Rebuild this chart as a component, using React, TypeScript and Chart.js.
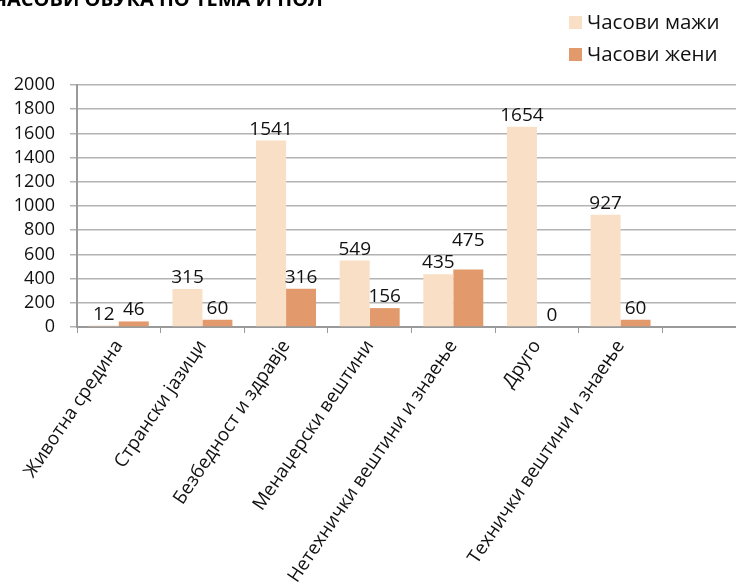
import React, { useEffect, useRef } from 'react';
import { Chart, registerables } from 'chart.js';

Chart.register(...registerables);

const chartTitle = 'ЧАСОВИ ОБУКА ПО ТЕМА И ПОЛ';
const categories = [
  'Животна средина',
  'Странски јазици',
  'Безбедност и здравје',
  'Менаџерски вештини',
  'Нетехнички вештини и знаење',
  'Друго',
  'Технички вештини и знаење',
  '',
];
const seriesNames = ['Часови мажи', 'Часови жени'];
const menHours: (number | null)[] = [12, 315, 1541, 549, 435, 1654, 927, null];
const womenHours: (number | null)[] = [46, 60, 316, 156, 475, 0, 60, null];
const yMin = 0;
const yMax = 2000;
const yStep = 200;

const FONT = "'Open Sans', 'Noto Sans', sans-serif";
const MEN_COLOR = '#F8DFC5';
const WOMEN_COLOR = '#E29A6C';
const GRID_COLOR = '#B3B3B3';
const AXIS_COLOR = '#9A9A9A';
const TEXT_COLOR = '#111111';

const valueLabels = {
  id: 'valueLabels',
  afterDatasetsDraw(chart: any) {
    const ctx = chart.ctx;
    ctx.save();
    ctx.font = `19px ${FONT}`;
    ctx.fillStyle = TEXT_COLOR;
    ctx.textAlign = 'center';
    ctx.textBaseline = 'alphabetic';
    const textH = 14;
    const n = chart.data.labels.length;
    for (let j = 0; j < n; j++) {
      const items: { text: string; x: number; y: number; w: number }[] = [];
      chart.data.datasets.forEach((ds: any, i: number) => {
        const v = ds.data[j];
        if (v === null || v === undefined) return;
        const bar = chart.getDatasetMeta(i).data[j];
        const text = String(v);
        items.push({ text, x: bar.x, y: bar.y - 6, w: ctx.measureText(text).width });
      });
      // avoid overlapping labels inside one category
      if (items.length === 2) {
        const [a, b] = items;
        const overlapX = Math.abs(a.x - b.x) < (a.w + b.w) / 2 + 2;
        const overlapY = Math.abs(a.y - b.y) < textH + 4;
        if (overlapX && overlapY) {
          if (b.y <= a.y) b.y = a.y - (textH + 8);
          else a.y = b.y - (textH + 8);
        }
      }
      items.forEach((it) => ctx.fillText(it.text, it.x, it.y));
    }
    ctx.restore();
  },
};

const legendAndTitle = {
  id: 'legendAndTitle',
  afterDraw(chart: any) {
    const ctx = chart.ctx;
    ctx.save();
    // title (clipped at the top-left like the reference)
    ctx.font = `bold 20px ${FONT}`;
    ctx.fillStyle = '#000';
    ctx.textAlign = 'right';
    ctx.textBaseline = 'alphabetic';
    ctx.fillText(chartTitle, 323, 6);
    // legend
    ctx.font = `20.5px ${FONT}`;
    ctx.textAlign = 'left';
    ctx.textBaseline = 'middle';
    chart.data.datasets.forEach((ds: any, i: number) => {
      const top = 16 + i * 32;
      ctx.fillStyle = ds.backgroundColor;
      ctx.fillRect(569, top, 13, 13);
      ctx.fillStyle = TEXT_COLOR;
      ctx.fillText(ds.label, 587, top + 7);
    });
    ctx.restore();
  },
};

export default function App() {
  const ref = useRef<HTMLCanvasElement | null>(null);

  useEffect(() => {
    document.body.style.margin = '0';
    document.body.style.overflow = 'hidden';
    const canvas = ref.current;
    if (!canvas) return;
    const chart = new Chart(canvas, {
      type: 'bar',
      data: {
        labels: categories,
        datasets: [
          {
            label: seriesNames[0],
            data: menHours,
            backgroundColor: MEN_COLOR,
            borderWidth: 0,
            categoryPercentage: 0.717,
            barPercentage: 1,
          },
          {
            label: seriesNames[1],
            data: womenHours,
            backgroundColor: WOMEN_COLOR,
            borderWidth: 0,
            categoryPercentage: 0.717,
            barPercentage: 1,
          },
        ],
      },
      options: {
        responsive: false,
        animation: false,
        devicePixelRatio: 1,
        layout: { padding: { top: 85, right: 14, left: 0, bottom: 0 } },
        plugins: {
          legend: { display: false },
          title: { display: false },
          tooltip: { enabled: false },
        },
        scales: {
          x: {
            afterFit(scale: any) {
              scale.height = 257;
            },
            grid: {
              drawOnChartArea: false,
              drawTicks: true,
              tickLength: 6,
              color: AXIS_COLOR,
              lineWidth: 1,
            },
            border: { color: AXIS_COLOR, width: 2 },
            ticks: {
              autoSkip: false,
              maxRotation: 56,
              minRotation: 56,
              padding: 3,
              color: TEXT_COLOR,
              font: { family: FONT, size: 18.7 },
            },
          },
          y: {
            min: yMin,
            max: yMax,
            afterFit(scale: any) {
              scale.width = 77;
            },
            grid: {
              color: GRID_COLOR,
              lineWidth: 1.5,
              tickLength: 7,
            },
            border: { color: AXIS_COLOR, width: 2 },
            ticks: {
              stepSize: yStep,
              autoSkip: false,
              padding: 15,
              color: TEXT_COLOR,
              font: { family: FONT, size: 18 },
              callback: (value: any) => String(value),
            },
          },
        },
      },
      plugins: [valueLabels, legendAndTitle],
    });
    return () => chart.destroy();
  }, []);

  return (
    <div
      style={{
        position: 'absolute',
        left: 0,
        top: 0,
        width: 736,
        height: 584,
        overflow: 'hidden',
        background: '#fff',
      }}
    >
      <canvas ref={ref} width={760} height={584} style={{ display: 'block' }} />
    </div>
  );
}
